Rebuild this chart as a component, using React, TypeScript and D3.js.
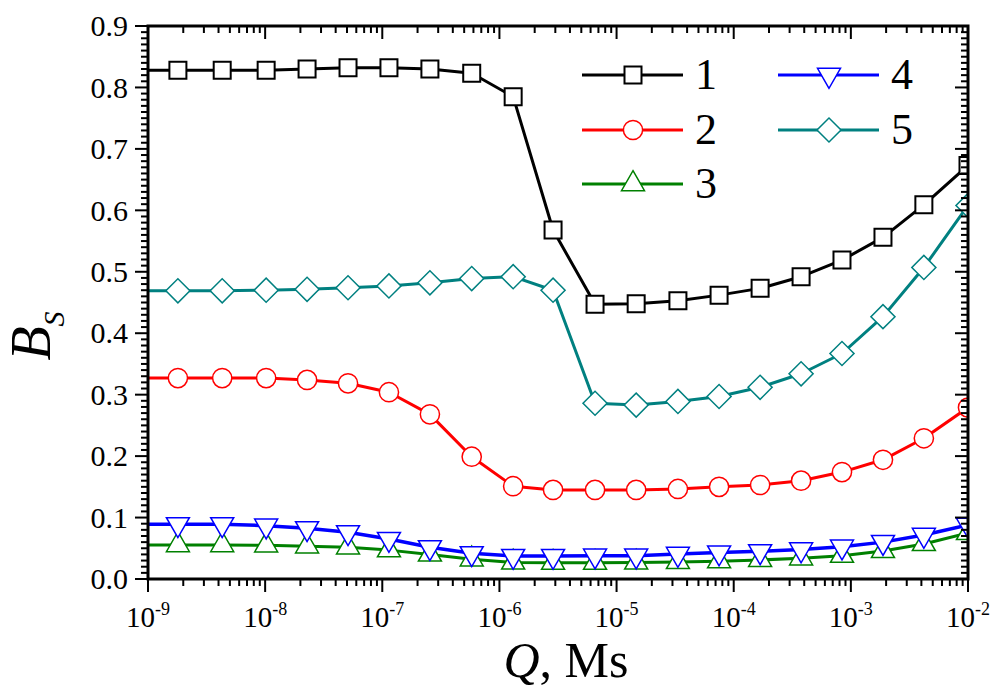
import React, { useRef, useEffect } from 'react';
import * as d3 from 'd3';

// Q values (Ms); the first one sits just left of the plot and is clipped
const qValues = [
  7.8e-10, 1.8e-9, 4.3e-9, 1.02e-8, 2.28e-8, 5.1e-8, 1.14e-7, 2.55e-7, 5.8e-7,
  1.31e-6, 2.87e-6, 6.55e-6, 1.47e-5, 3.34e-5, 7.5e-5, 1.68e-4, 3.76e-4,
  8.4e-4, 1.88e-3, 4.2e-3, 1e-2,
];

const series1 = [
  0.828, 0.828, 0.828, 0.828, 0.830, 0.832, 0.832, 0.830, 0.823, 0.785, 0.568,
  0.447, 0.448, 0.453, 0.462, 0.473, 0.492, 0.519, 0.556, 0.609, 0.673,
];
const series2 = [
  0.327, 0.327, 0.327, 0.327, 0.324, 0.3185, 0.304, 0.268, 0.199, 0.151, 0.145,
  0.145, 0.145, 0.1465, 0.150, 0.153, 0.160, 0.174, 0.194, 0.229, 0.279,
];
const series3 = [
  0.0553, 0.0553, 0.0553, 0.0548, 0.0532, 0.0516, 0.047, 0.040, 0.032, 0.027,
  0.0266, 0.0266, 0.027, 0.0277, 0.029, 0.031, 0.0337, 0.038, 0.0456, 0.057,
  0.075,
];
const series4 = [
  0.089, 0.089, 0.089, 0.0868, 0.0825, 0.076, 0.065, 0.0516, 0.0418, 0.0374,
  0.0374, 0.038, 0.038, 0.0407, 0.043, 0.045, 0.048, 0.0526, 0.060, 0.0716,
  0.088,
];
const series5 = [
  0.469, 0.469, 0.469, 0.470, 0.4715, 0.474, 0.477, 0.482, 0.489, 0.492, 0.470,
  0.286, 0.283, 0.289, 0.297, 0.312, 0.334, 0.367, 0.427, 0.507, 0.608,
];

const seriesNames = ['1', '2', '3', '4', '5'];
const seriesColors = ['#000000', '#ff0000', '#008000', '#0000ff', '#008080'];
const seriesMarkers = ['square', 'circle', 'triangleUp', 'triangleDown', 'diamond'];

const yTicks = [0, 0.1, 0.2, 0.3, 0.4, 0.5, 0.6, 0.7, 0.8, 0.9];
const xExponents = [-9, -8, -7, -6, -5, -4, -3, -2];

const W = 1000;
const H = 700;
const left = 148;
const right = 968;
const top = 26;
const bottom = 579;
const font = 'Liberation Serif, Times New Roman, serif';

function markerPath(kind: string): { d: string; rot: number } {
  if (kind === 'square') return { d: d3.symbol(d3.symbolSquare, 289)()!, rot: 0 };
  if (kind === 'circle') return { d: d3.symbol(d3.symbolCircle, 290)()!, rot: 0 };
  if (kind === 'diamond') return { d: d3.symbol(d3.symbolSquare, 290)()!, rot: 45 };
  const tri = d3.symbol(d3.symbolTriangle, 229)()!;
  return { d: tri, rot: kind === 'triangleDown' ? 180 : 0 };
}

const App: React.FC = () => {
  const svgRef = useRef<SVGSVGElement>(null);

  useEffect(() => {
    if (!svgRef.current) return;
    const svg = d3.select(svgRef.current);
    svg.selectAll('*').remove();

    const x = d3.scaleLog().domain([1e-9, 1e-2]).range([left, right]);
    const y = d3.scaleLinear().domain([0, 0.9]).range([bottom, top]);

    svg.append('defs').append('clipPath').attr('id', 'plot-clip')
      .append('rect')
      .attr('x', left).attr('y', top)
      .attr('width', right - left).attr('height', bottom - top);

    const allSeries = [series1, series2, series3, series4, series5];

    // Lines and markers
    const plot = svg.append('g').attr('clip-path', 'url(#plot-clip)');
    const line = d3.line<number>()
      .x((_d, i) => x(qValues[i]))
      .y((d) => y(d));

    allSeries.forEach((vals, si) => {
      const color = seriesColors[si];
      const g = plot.append('g');
      g.append('path')
        .attr('d', line(vals))
        .attr('fill', 'none')
        .attr('stroke', color)
        .attr('stroke-width', si === 3 ? 3.5 : 3)
        .attr('stroke-linejoin', 'round');
      const m = markerPath(seriesMarkers[si]);
      g.selectAll('path.mk')
        .data(vals)
        .enter().append('path')
        .attr('class', 'mk')
        .attr('d', m.d)
        .attr('transform', (d, i) => `translate(${x(qValues[i])},${y(d)}) rotate(${m.rot})`)
        .attr('fill', 'white')
        .attr('stroke', color)
        .attr('stroke-width', si === 0 ? 2 : 1.5);
    });

    // Axes frame
    const axisColor = '#000';
    const frame = svg.append('g');

    // minor / major ticks on x (bottom outward, top inward)
    const xMinor: number[] = [];
    xExponents.slice(0, -1).forEach((e) => {
      for (let k = 2; k <= 9; k++) xMinor.push(k * Math.pow(10, e));
    });
    const xMajor = xExponents.map((e) => Math.pow(10, e));

    const tickG = frame.append('g').attr('stroke', axisColor).attr('stroke-width', 2);
    xMinor.forEach((v) => {
      tickG.append('line').attr('x1', x(v)).attr('x2', x(v)).attr('y1', bottom).attr('y2', bottom + 7);
      tickG.append('line').attr('x1', x(v)).attr('x2', x(v)).attr('y1', top).attr('y2', top + 7);
    });
    xMajor.forEach((v) => {
      tickG.append('line').attr('x1', x(v)).attr('x2', x(v)).attr('y1', bottom).attr('y2', bottom + 13);
      tickG.append('line').attr('x1', x(v)).attr('x2', x(v)).attr('y1', top).attr('y2', top + 13);
    });

    // y ticks: left outward, right inward; minor every 0.01
    const yMinor = d3.range(0, 91).map((i) => i / 100).filter((v, i) => i % 10 !== 0);
    yMinor.forEach((v) => {
      tickG.append('line').attr('x1', left - 7).attr('x2', left).attr('y1', y(v)).attr('y2', y(v));
      tickG.append('line').attr('x1', right - 7).attr('x2', right).attr('y1', y(v)).attr('y2', y(v));
    });
    yTicks.forEach((v) => {
      tickG.append('line').attr('x1', left - 13).attr('x2', left).attr('y1', y(v)).attr('y2', y(v));
      tickG.append('line').attr('x1', right - 13).attr('x2', right).attr('y1', y(v)).attr('y2', y(v));
    });

    frame.append('rect')
      .attr('x', left).attr('y', top)
      .attr('width', right - left).attr('height', bottom - top)
      .attr('fill', 'none')
      .attr('stroke', axisColor)
      .attr('stroke-width', 3);

    // y tick labels
    frame.selectAll('text.ylab')
      .data(yTicks)
      .enter().append('text')
      .attr('class', 'ylab')
      .attr('x', left - 20)
      .attr('y', (d) => y(d))
      .attr('dy', '0.34em')
      .attr('text-anchor', 'end')
      .attr('font-family', font)
      .attr('font-size', 30)
      .text((d) => d.toFixed(1));

    // x tick labels 10^n
    xExponents.forEach((e) => {
      const t = frame.append('text')
        .attr('x', x(Math.pow(10, e)))
        .attr('y', 627)
        .attr('text-anchor', 'middle')
        .attr('font-family', font)
        .attr('font-size', 29);
      t.append('tspan').text('10');
      t.append('tspan')
        .attr('dy', -12)
        .attr('font-size', 18)
        .text(String(e));
    });

    // axis titles
    const xt = svg.append('text')
      .attr('x', 566)
      .attr('y', 677)
      .attr('text-anchor', 'middle')
      .attr('font-family', font)
      .attr('font-size', 50);
    xt.append('tspan').attr('font-style', 'italic').text('Q');
    xt.append('tspan').text(', Ms');

    const yt = svg.append('text')
      .attr('transform', 'translate(50,336) rotate(-90)')
      .attr('text-anchor', 'middle')
      .attr('font-family', font)
      .attr('font-size', 56);
    yt.append('tspan').attr('font-style', 'italic').text('B');
    yt.append('tspan').attr('dy', 14).attr('font-size', 30).attr('font-style', 'italic').text('S');

    // legend
    const legendPos = [
      { x: 582, y: 75 }, { x: 582, y: 130 }, { x: 582, y: 184 },
      { x: 778, y: 75 }, { x: 778, y: 130 },
    ];
    seriesNames.forEach((name, si) => {
      const p = legendPos[si];
      const color = seriesColors[si];
      const g = svg.append('g');
      g.append('line')
        .attr('x1', p.x).attr('x2', p.x + 101)
        .attr('y1', p.y).attr('y2', p.y)
        .attr('stroke', color)
        .attr('stroke-width', 3);
      const m = markerPath(seriesMarkers[si]);
      g.append('path')
        .attr('d', m.d)
        .attr('transform', `translate(${p.x + 51},${p.y}) rotate(${m.rot})`)
        .attr('fill', 'white')
        .attr('stroke', color)
        .attr('stroke-width', si === 0 ? 2 : 1.5);
      g.append('text')
        .attr('x', p.x + 113)
        .attr('y', p.y + 14)
        .attr('font-family', font)
        .attr('font-size', 44)
        .text(name);
    });
  }, []);

  return (
    <div style={{ position: 'absolute', left: 0, top: 0 }}>
      <svg ref={svgRef} width={W} height={H} style={{ display: 'block', background: 'white' }}></svg>
    </div>
  );
};

export default App;
